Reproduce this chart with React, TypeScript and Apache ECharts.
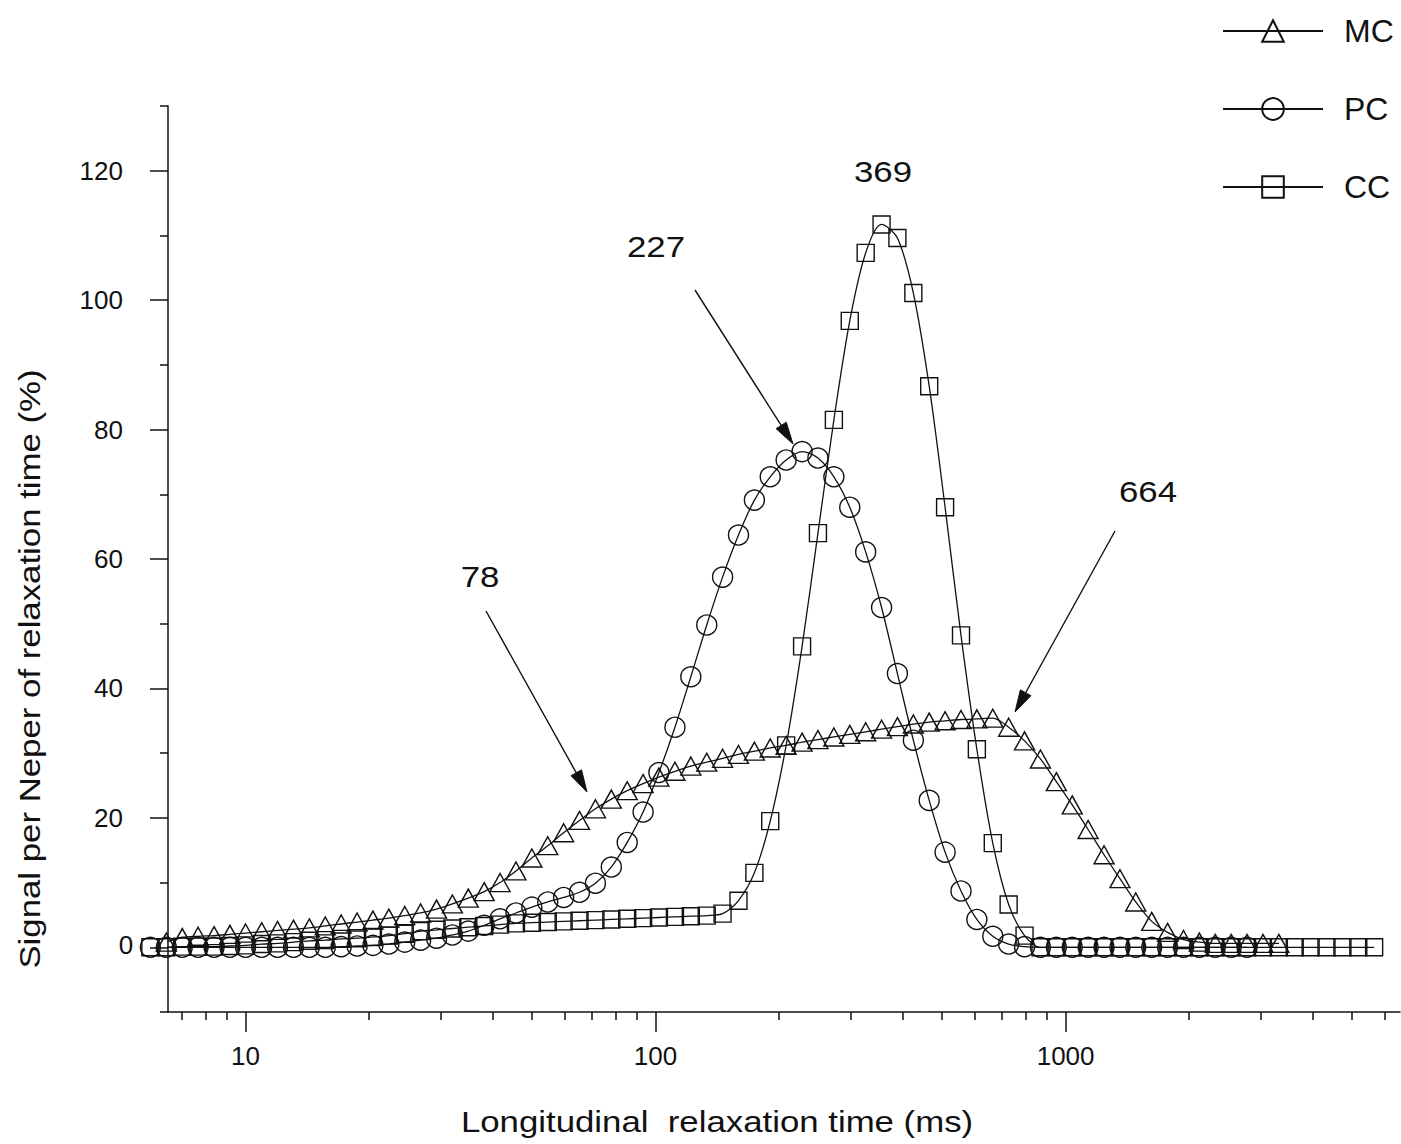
import React, { useEffect, useRef } from "react";
import * as echarts from "echarts";

// Longitudinal relaxation time grid (ms), shared by all three samples
const relaxationTimes = [
  5.86, 6.41, 7.01, 7.66, 8.38, 9.16, 10.0, 10.95, 11.97, 13.09,
  14.31, 15.65, 17.11, 18.71, 20.45, 22.36, 24.45, 26.73, 29.23, 31.95,
  34.94, 38.2, 41.76, 45.66, 49.92, 54.58, 59.68, 65.24, 71.34, 78.0,
  85.28, 93.25, 101.9, 111.5, 121.9, 133.3, 145.7, 159.3, 174.2, 190.4,
  208.2, 227.7, 248.9, 272.2, 297.6, 325.4, 355.8, 388.9, 425.3, 464.9,
  508.3, 555.8, 607.6, 664.4, 726.3, 794.1, 868.3, 949.3, 1038, 1135,
  1241, 1357, 1483, 1622, 1773, 1939, 2120, 2317, 2534, 2770,
  3029, 3312, 3621, 3959, 4328, 4733, 5175, 5656,
];

// Signal per Neper (%) – each list begins at the given index of the time grid
const mcStart = 1;
const mcSignal = [
  0.8, 1.5, 1.7, 1.8, 2.0, 2.2, 2.4, 2.6, 2.8, 3.0,
  3.3, 3.6, 3.9, 4.2, 4.5, 4.9, 5.3, 5.9, 6.7, 7.6,
  8.6, 10.0, 11.8, 13.8, 15.7, 17.7, 19.6, 21.4, 22.9, 24.2,
  25.3, 26.3, 27.2, 28.0, 28.6, 29.2, 29.8, 30.3, 30.8, 31.2,
  31.7, 32.1, 32.5, 32.9, 33.3, 33.7, 34.1, 34.5, 34.8, 35.0,
  35.2, 35.3, 35.4, 34.0, 31.9, 29.1, 25.6, 22.0, 18.2, 14.3,
  10.6, 7.0, 4.0, 2.3, 1.2, 0.8, 0.6, 0.6, 0.6, 0.6, 0.6,
];

const pcStart = 0;
const pcSignal = [
  0, 0, 0, 0, 0, 0, 0, 0, 0, 0,
  0, 0, 0.1, 0.2, 0.3, 0.5, 0.8, 1.1, 1.4, 1.9,
  2.5, 3.4, 4.4, 5.3, 6.2, 7.0, 7.7, 8.5, 9.9, 12.4,
  16.2, 20.9, 27.0, 34.0, 41.8, 49.8, 57.2, 63.7, 69.1, 72.7,
  75.3, 76.6, 75.6, 72.7, 68.0, 61.1, 52.5, 42.3, 32.0, 22.7,
  14.7, 8.7, 4.3, 1.7, 0.5, 0.1, 0, 0, 0, 0,
  0, 0, 0, 0, 0, 0, 0, 0, 0, 0,
];

const ccStart = 0;
const ccSignal = [
  0, 0, 0.1, 0.1, 0.1, 0.2, 0.3, 0.5, 0.6, 0.8,
  1.0, 1.1, 1.3, 1.4, 1.6, 1.8, 2.1, 2.5, 2.7, 2.9,
  3.1, 3.3, 3.5, 3.7, 3.8, 3.9, 4.0, 4.1, 4.2, 4.3,
  4.4, 4.5, 4.6, 4.7, 4.8, 4.9, 5.2, 7.2, 11.5, 19.5,
  31.2, 46.5, 64.0, 81.5, 96.8, 107.3, 111.7, 109.6, 101.1, 86.7,
  68.0, 48.2, 30.6, 16.1, 6.6, 1.8, 0, 0, 0, 0,
  0, 0, 0, 0, 0, 0, 0, 0, 0, 0,
  0, 0, 0, 0, 0, 0, 0, 0,
];

// Axis ticks
const xMajorTicks = [10, 100, 1000];
const xMinorTicks = [
  7, 8, 9, 20, 30, 40, 50, 60, 70, 80, 90,
  200, 300, 400, 500, 600, 700, 800, 900,
  2000, 3000, 4000, 5000, 6000,
];
const yMajorTicks = [0, 20, 40, 60, 80, 100, 120];
const yLabelTicks = [20, 40, 60, 80, 100, 120];
const yMinorTicks = [-10, 10, 30, 50, 70, 90, 110, 130];

// Peak annotations
const peakNotes = ["78", "227", "369", "664"];

const FONT = '"Liberation Sans", Arial, Helvetica, sans-serif';
const INK = "#111";
const WIDE = 1.16; // horizontal stretch of the title lettering

function toPairs(start: number, values: number[]) {
  return values.map((v, i) => [relaxationTimes[start + i], v]);
}

function arrow(x1: number, y1: number, x2: number, y2: number) {
  const len = Math.hypot(x2 - x1, y2 - y1);
  const ux = (x2 - x1) / len;
  const uy = (y2 - y1) / len;
  const head = 22;
  const half = 6;
  const bx = x2 - ux * head;
  const by = y2 - uy * head;
  return {
    type: "group",
    children: [
      {
        type: "line",
        shape: { x1, y1, x2: bx, y2: by },
        style: { stroke: INK, lineWidth: 1.4 },
      },
      {
        type: "polygon",
        shape: {
          points: [
            [x2, y2],
            [bx - uy * half, by + ux * half],
            [bx + uy * half, by - ux * half],
          ],
        },
        style: { fill: INK, stroke: INK, lineWidth: 1 },
      },
    ],
  };
}

function label(text: string, x: number, y: number, size: number, scaleX = WIDE, rotation = 0) {
  return {
    type: "text",
    x,
    y,
    scaleX,
    rotation,
    style: {
      text,
      font: `${size}px ${FONT}`,
      fill: INK,
      align: "center",
      verticalAlign: "middle",
    },
  };
}

function lineSeries(name: string, data: number[][], symbol: string, symbolSize: any) {
  return {
    name,
    type: "line",
    data,
    symbol,
    symbolSize,
    showAllSymbol: true,
    smooth: 0.3,
    clip: false,
    lineStyle: { color: INK, width: 1.3 },
    itemStyle: { color: "rgba(0,0,0,0)", borderColor: INK, borderWidth: 1.4 },
    emphasis: { disabled: true },
  };
}

const axisLineStyle = { color: INK, width: 1.5 };

export default function App() {
  const ref = useRef<HTMLDivElement>(null);

  useEffect(() => {
    if (!ref.current) return;
    const chart = echarts.init(ref.current, null, { renderer: "svg" });

    const option: any = {
      animation: false,
      backgroundColor: "#fff",
      textStyle: { fontFamily: FONT },
      grid: { left: 168, top: 106, right: 1, bottom: 132 },
      legend: {
        orient: "vertical",
        left: 1222,
        top: 15,
        padding: 0,
        itemWidth: 100,
        itemHeight: 27,
        itemGap: 46,
        data: ["MC", "PC", "CC"],
        textStyle: { fontSize: 32, color: INK, fontFamily: FONT, padding: [0, 0, 0, 16] },
        selectedMode: false,
      },
      xAxis: [
        {
          type: "log",
          logBase: 10,
          min: 6.47,
          max: 6540,
          position: "bottom",
          axisLine: { show: true, onZero: false, lineStyle: axisLineStyle },
          axisTick: { show: true, customValues: xMajorTicks, length: 20, lineStyle: axisLineStyle },
          axisLabel: {
            customValues: xMajorTicks,
            margin: 31,
            fontSize: 26,
            color: INK,
            fontFamily: FONT,
            formatter: (v: number) => String(Math.round(v)),
          },
          splitLine: { show: false },
          minorTick: { show: false },
        },
        {
          type: "log",
          logBase: 10,
          min: 6.47,
          max: 6540,
          position: "bottom",
          axisLine: { show: false, onZero: false },
          axisTick: { show: true, customValues: xMinorTicks, length: 8, lineStyle: axisLineStyle },
          axisLabel: { show: false },
          splitLine: { show: false },
        },
      ],
      yAxis: [
        {
          type: "value",
          min: -10,
          max: 130,
          interval: 10,
          position: "left",
          axisLine: { show: true, onZero: false, lineStyle: axisLineStyle },
          axisTick: { show: true, customValues: yMajorTicks, length: 18, lineStyle: axisLineStyle },
          axisLabel: {
            customValues: yLabelTicks,
            margin: 45,
            fontSize: 26,
            color: INK,
            fontFamily: FONT,
          },
          splitLine: { show: false },
        },
        {
          type: "value",
          min: -10,
          max: 130,
          interval: 10,
          position: "left",
          axisLine: { show: false, onZero: false },
          axisTick: { show: true, customValues: yMinorTicks, length: 8, lineStyle: axisLineStyle },
          axisLabel: { show: false },
          splitLine: { show: false },
        },
      ],
      series: [
        lineSeries("MC", toPairs(mcStart, mcSignal), "triangle", [20, 18]),
        lineSeries("PC", toPairs(pcStart, pcSignal), "circle", 20),
        lineSeries("CC", toPairs(ccStart, ccSignal), "rect", 17),
      ],
      graphic: [
        label("Longitudinal  relaxation time (ms)", 717, 1122, 30),
        label("Signal per Neper of relaxation time (%)", 30, 669, 30, WIDE, Math.PI / 2),
        // the zero label of the signal axis sits slightly right of the others
        label("0", 126, 945, 26, 1),
        label(peakNotes[0], 480, 577, 30),
        label(peakNotes[1], 656, 247, 30),
        label(peakNotes[2], 883, 172, 30),
        label(peakNotes[3], 1148, 492, 30),
        arrow(486, 611, 587, 792),
        arrow(695, 290, 793, 444),
        arrow(1115, 531, 1015, 712),
      ],
    };

    chart.setOption(option);
    return () => chart.dispose();
  }, []);

  return (
    <div
      ref={ref}
      style={{ position: "fixed", left: 0, top: 0, width: 1401, height: 1144, background: "#fff" }}
    />
  );
}
